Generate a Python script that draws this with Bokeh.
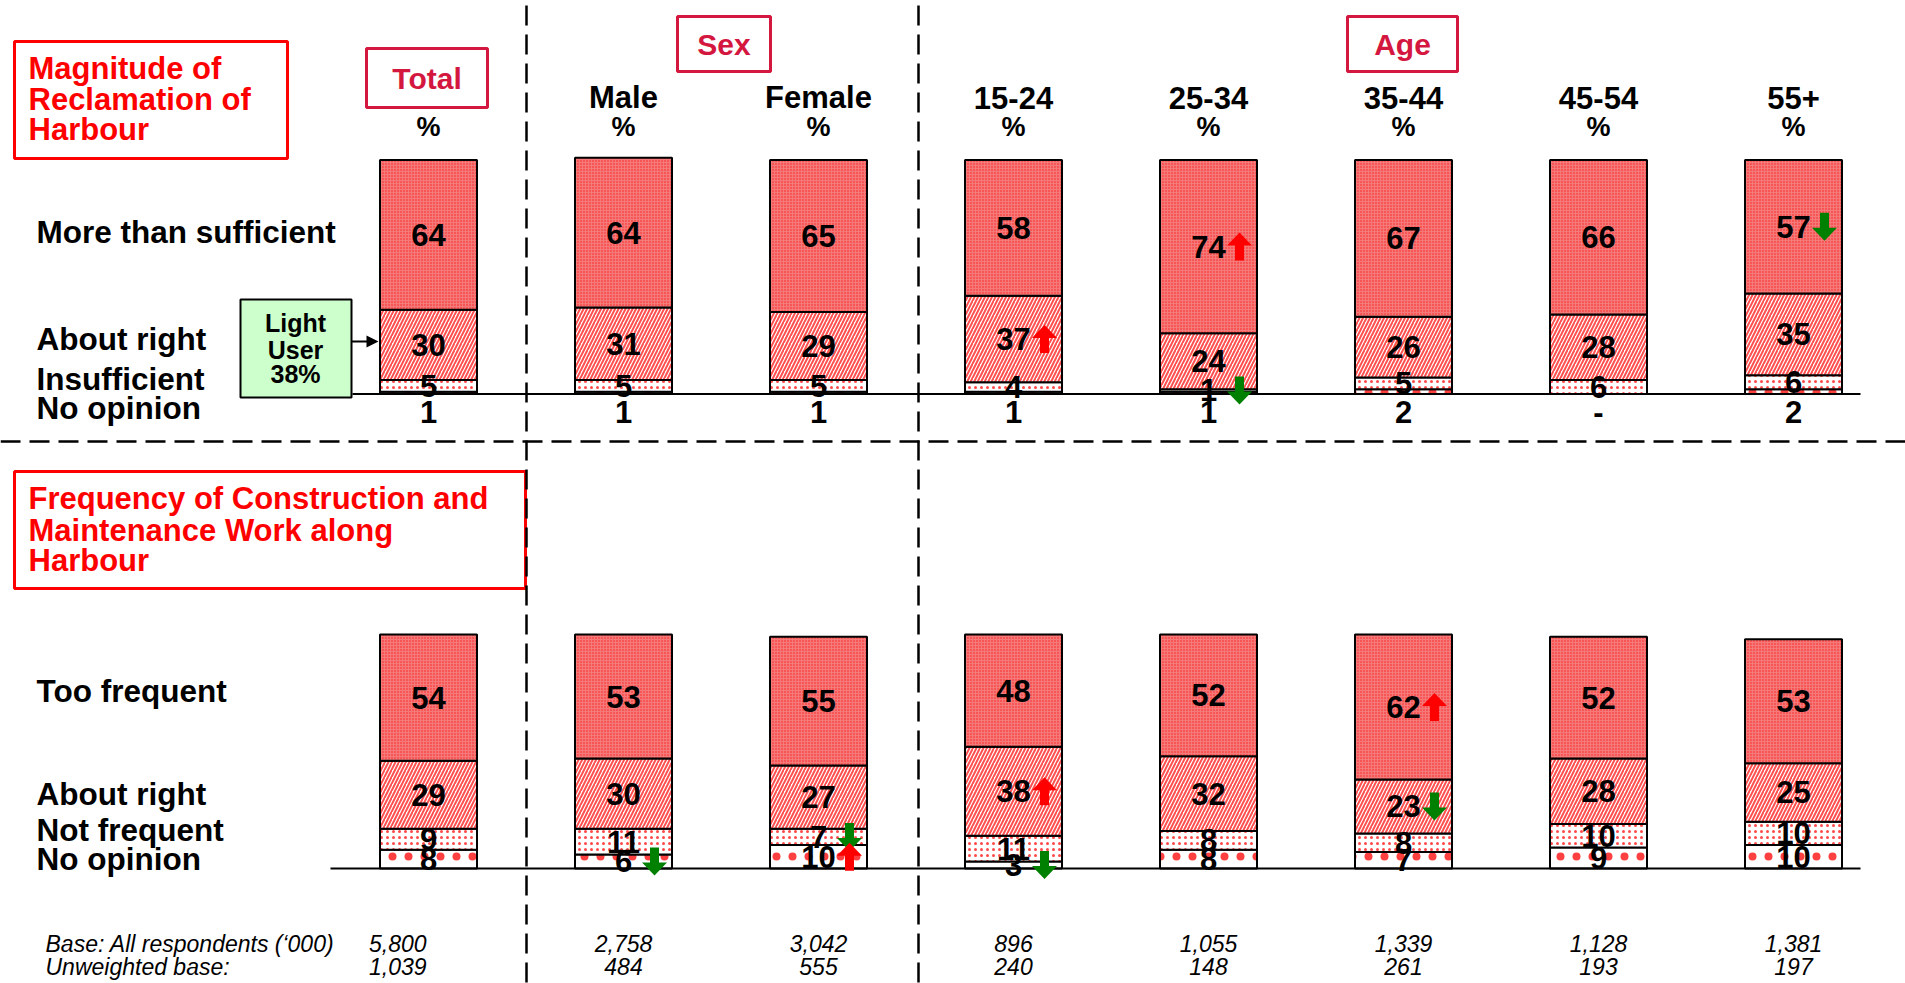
import numpy as np
from bokeh.plotting import figure
from bokeh.models import Range1d, ColumnDataSource
from bokeh.embed import file_html
from bokeh.resources import INLINE
from bokeh.core.properties import value

# ---------------- data ----------------
groups = ["Total", "Male", "Female", "15-24", "25-34", "35-44", "45-54", "55+"]
group_heads = ["", "Male", "Female", "15-24", "25-34", "35-44", "45-54", "55+"]

# Magnitude of Reclamation of Harbour (bottom -> top)
q1_cats = ["No opinion", "Insufficient", "About right", "More than sufficient"]
q1_noop = [1, 1, 1, 1, 1, 2, 0, 2]
q1_insuff = [5, 5, 5, 4, 1, 5, 6, 6]
q1_about = [30, 31, 29, 37, 24, 26, 28, 35]
q1_more = [64, 64, 65, 58, 74, 67, 66, 57]
q1_noop_labels = ["1", "1", "1", "1", "1", "2", "-", "2"]

# Frequency of Construction and Maintenance Work along Harbour (bottom -> top)
q2_cats = ["No opinion", "Not frequent", "About right", "Too frequent"]
q2_noop = [8, 6, 10, 3, 8, 7, 9, 10]
q2_notfreq = [9, 11, 7, 11, 8, 8, 10, 10]
q2_about = [29, 30, 27, 38, 32, 23, 28, 25]
q2_too = [54, 53, 55, 48, 52, 62, 52, 53]

# significance arrows: (group index, level index bottom-up, direction)
q1_sig = [(3, 2, "up"), (4, 3, "up"), (4, 1, "down"), (7, 3, "down")]
q2_sig = [(1, 0, "down"), (2, 1, "down"), (2, 0, "up"), (3, 2, "up"),
          (3, 0, "down"), (5, 3, "up"), (5, 2, "down")]

base_all = ["5,800", "2,758", "3,042", "896", "1,055", "1,339", "1,128", "1,381"]
base_unw = ["1,039", "484", "555", "240", "148", "261", "193", "197"]

# ---------------- layout ----------------
FONT = "Liberation Sans"
W, H = 1905, 983
group_x = [428 + 195 * i for i in range(8)]
BAR_W = 97
PX = 2.34  # pixels per percent
RED = "#ff0000"
CRIMSON = "#d4173f"
GREEN = "#008000"

p = figure(width=W, height=H, x_range=Range1d(0, W), y_range=Range1d(H, 0),
           x_axis_type=None, y_axis_type=None, output_backend="svg",
           toolbar_location=None, min_border=0)
p.grid.visible = False
p.outline_line_color = None
p.background_fill_color = "white"
p.border_fill_color = "white"

panels = [
    dict(name="q1", base=393.5, series=[q1_noop, q1_insuff, q1_about, q1_more], cats=q1_cats,
         cat_y=[407.5, 378.5, 338, 231], sig=q1_sig, line_from=352),
    dict(name="q2", base=868.0, series=[q2_noop, q2_notfreq, q2_about, q2_too], cats=q2_cats,
         cat_y=[858, 829, 793, 690], sig=q2_sig, line_from=330),
]
for pn in panels:
    b = pn["base"]
    p.extra_y_ranges[pn["name"]] = Range1d(start=(b - H) / PX, end=b / PX)

styles = [
    dict(fill_color="white", hatch_pattern="dot", hatch_scale=16, hatch_weight=2.0, hatch_color="#ff4040"),
    dict(fill_color="white", hatch_pattern="dot", hatch_scale=6, hatch_weight=2.0, hatch_color="#ff4a4a"),
    dict(fill_color="white", hatch_pattern="right_diagonal_line", hatch_scale=7, hatch_weight=2, hatch_color="#ff5050"),
    dict(fill_color="#f47a7a", hatch_pattern="dot", hatch_scale=3, hatch_weight=1.6, hatch_color="#ff2020"),
]


def arrow_poly(cx, cy_pct, direction):
    s = 1 if direction == "up" else -1
    pts = [(0, 14), (12.5, 1), (4.5, 1), (4.5, -14), (-4.5, -14), (-4.5, 1), (-12.5, 1)]
    xs = [cx + dx for dx, dy in pts]
    ys = [cy_pct + s * dy / PX for dx, dy in pts]
    return xs, ys


for pi, pn in enumerate(panels):
    name = pn["name"]
    series = np.array(pn["series"], dtype=float)
    tops = np.cumsum(series, axis=0)
    bottoms = tops - series
    mids = (tops + bottoms) / 2
    label_y = mids.copy()
    labels = [[str(v) for v in row] for row in pn["series"]]
    if name == "q1":
        label_y[0] = -7.5
        labels[0] = q1_noop_labels
    for k in range(4):
        src = ColumnDataSource(dict(x=group_x, bottom=bottoms[k], top=tops[k]))
        p.vbar(x="x", width=BAR_W, bottom="bottom", top="top", source=src, y_range_name=name,
               line_color="black", line_width=2, **styles[k])
    for k in range(4):
        tsrc = ColumnDataSource(dict(x=group_x, y=label_y[k], t=labels[k]))
        p.text(x="x", y="y", text="t", source=tsrc, y_range_name=name,
               text_font=value(FONT), text_font_style="bold", text_font_size="31px",
               text_align="center", text_baseline="middle", text_color="black")
    # baseline
    p.segment(x0=[pn["line_from"]], x1=[1860], y0=[0], y1=[0], y_range_name=name,
              line_color="black", line_width=2)
    # category labels
    p.text(x=[36] * 4, y=pn["cat_y"], text=pn["cats"], text_font=value(FONT),
           text_font_style="bold", text_font_size="31.5px", text_align="left",
           text_baseline="middle", text_color="black")
    # significance arrows
    axs, ays, acol = [], [], []
    for gi, lev, d in pn["sig"]:
        xs, ys = arrow_poly(group_x[gi] + 31, label_y[lev][gi], d)
        axs.append(xs)
        ays.append(ys)
        acol.append(RED if d == "up" else GREEN)
    p.patches(xs=axs, ys=ays, fill_color=acol, line_color=None, y_range_name=name)

# headers
p.text(x=group_x[1:], y=[97] * 7, text=group_heads[1:], text_font=value(FONT),
       text_font_style="bold", text_font_size="31px", text_align="center",
       text_baseline="middle", text_color="black")
p.text(x=group_x, y=[126] * 8, text=["%"] * 8, text_font=value(FONT),
       text_font_style="bold", text_font_size="27px", text_align="center",
       text_baseline="middle", text_color="black")

# group boxes
p.quad(left=[366, 677, 1347], right=[487, 770, 1457], top=[48, 16, 16], bottom=[107, 71, 71],
       fill_color="white", line_color=CRIMSON, line_width=3)
p.text(x=[426.5, 723.5, 1402], y=[78, 44, 44], text=["Total", "Sex", "Age"],
       text_font=value(FONT), text_font_style="bold", text_font_size="30px",
       text_align="center", text_baseline="middle", text_color=CRIMSON)

# title boxes
p.quad(left=[14, 14], right=[287, 525], top=[41, 471], bottom=[158, 588],
       fill_color="white", line_color=RED, line_width=3)
t1 = ["Magnitude of", "Reclamation of", "Harbour"]
t2 = ["Frequency of Construction and", "Maintenance Work along", "Harbour"]
p.text(x=[28] * 3, y=[68, 99, 129], text=t1, text_font=value(FONT), text_font_style="bold",
       text_font_size="31px", text_align="left", text_baseline="middle", text_color=RED)
p.text(x=[28] * 3, y=[498, 530, 560], text=t2, text_font=value(FONT), text_font_style="bold",
       text_font_size="31px", text_align="left", text_baseline="middle", text_color=RED)

# light user callout
p.quad(left=[240], right=[351], top=[299], bottom=[397], fill_color="#ccffcc",
       line_color="black", line_width=2)
p.text(x=[295] * 3, y=[322, 349, 373], text=["Light", "User", "38%"], text_font=value(FONT),
       text_font_style="bold", text_font_size="25px", text_align="center",
       text_baseline="middle", text_color="black")
p.segment(x0=[351], x1=[368], y0=[341], y1=[341], line_color="black", line_width=2)
p.patches(xs=[[378, 366, 366]], ys=[[341, 335, 347]], fill_color="black", line_color=None)

# dashed separators
p.segment(x0=[526, 918], x1=[526, 918], y0=[5, 5], y1=[983, 983], line_color="black",
          line_width=2.5, line_dash="20 9")
p.segment(x0=[0], x1=[1905], y0=[441], y1=[441], line_color="black", line_width=2.5,
          line_dash="20 9")

# footer
p.text(x=[45, 45], y=[943, 966], text=["Base: All respondents (\u2018000)", "Unweighted base:"],
       text_font=value(FONT), text_font_style="italic", text_font_size="23px",
       text_align="left", text_baseline="middle", text_color="black")
p.text(x=[426, 426], y=[943, 966], text=[base_all[0], base_unw[0]], text_font=value(FONT),
       text_font_style="italic", text_font_size="23px", text_align="right",
       text_baseline="middle", text_color="black")
p.text(x=group_x[1:], y=[943] * 7, text=base_all[1:], text_font=value(FONT),
       text_font_style="italic", text_font_size="23px", text_align="center",
       text_baseline="middle", text_color="black")
p.text(x=group_x[1:], y=[966] * 7, text=base_unw[1:], text_font=value(FONT),
       text_font_style="italic", text_font_size="23px", text_align="center",
       text_baseline="middle", text_color="black")

open("out.html", "w").write(file_html(p, INLINE))
